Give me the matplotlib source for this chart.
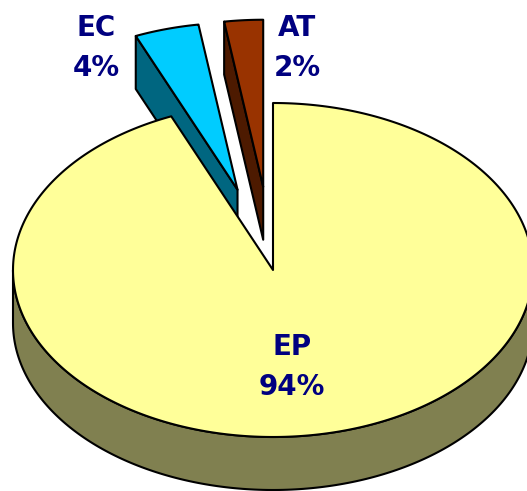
import numpy as np
import matplotlib.pyplot as plt
from matplotlib.patches import Polygon

# données du camembert (sens horaire depuis midi)
labels = ['EP', 'EC', 'AT']
values = [93.6, 4.0, 2.4]
explode = [0.0, 0.5, 0.5]
top_colors = ['#FFFF99', '#00CCFF', '#993300']
side_colors = ['#808050', '#006680', '#4D1A00']

# mise en page (pixels)
W, H = 527, 491
cx, cy = 273, 270          # centre de la face supérieure
rx, ry = 260, 167          # demi-axes de l'ellipse
depth = 53                 # épaisseur
label_xy = [(292, 367), (96, 48), (297, 48)]
edge_kw = dict(edgecolor='black', linewidth=1.5, joinstyle='round')

fig = plt.figure(figsize=(W / 100, H / 100), dpi=100)
ax = fig.add_axes([0, 0, 1, 1])
ax.set_xlim(0, W)
ax.set_ylim(H, 0)
ax.axis('off')


def pt(th, ox, oy, dz=0.0):
    t = np.radians(th)
    return np.column_stack([cx + ox + rx * np.cos(t), cy + oy - ry * np.sin(t) + dz])


# angles de chaque part
wedges = []
t_start = 90.0
for i, v in enumerate(values):
    t_end = t_start - v * 3.6
    t1, t0 = t_end, t_start
    mid = np.radians((t1 + t0) / 2)
    ox = explode[i] * rx * np.cos(mid)
    oy = -explode[i] * ry * np.sin(mid)
    wedges.append((i, t1, t0, ox, oy))
    t_start = t_end

# du plus loin au plus proche
wedges.sort(key=lambda w: (explode[w[0]] == 0, w[4]))

for i, t1, t0, ox, oy in wedges:
    apex = np.array([[cx + ox, cy + oy]])
    apex_b = apex + [0, depth]

    # faces radiales visibles
    for th, vis in [(t1, np.cos(np.radians(t1)) > 1e-9), (t0, np.cos(np.radians(t0)) < -1e-9)]:
        if vis:
            poly = np.vstack([apex, pt(np.array([th]), ox, oy), pt(np.array([th]), ox, oy, depth), apex_b])
            ax.add_patch(Polygon(poly, closed=True, facecolor=side_colors[i], **edge_kw))

    # paroi extérieure (moitié avant)
    for k in range(-2, 2):
        lo = max(t1, k * 360 + 180)
        hi = min(t0, k * 360 + 360)
        if hi > lo:
            th = np.linspace(lo, hi, 200)
            poly = np.vstack([pt(th, ox, oy), pt(th[::-1], ox, oy, depth)])
            ax.add_patch(Polygon(poly, closed=True, facecolor=side_colors[i], **edge_kw))

    # face supérieure
    th = np.linspace(t1, t0, 400)
    poly = np.vstack([apex, pt(th, ox, oy)])
    ax.add_patch(Polygon(poly, closed=True, facecolor=top_colors[i], **edge_kw))

for i, name in enumerate(labels):
    x, y = label_xy[i]
    ax.text(x, y, f"{name}\n{round(values[i])}%", ha='center', va='center',
            fontsize=20, fontweight='bold', color='#000080', linespacing=1.55,
            family='DejaVu Sans')

fig.savefig('out.png', dpi=100)
